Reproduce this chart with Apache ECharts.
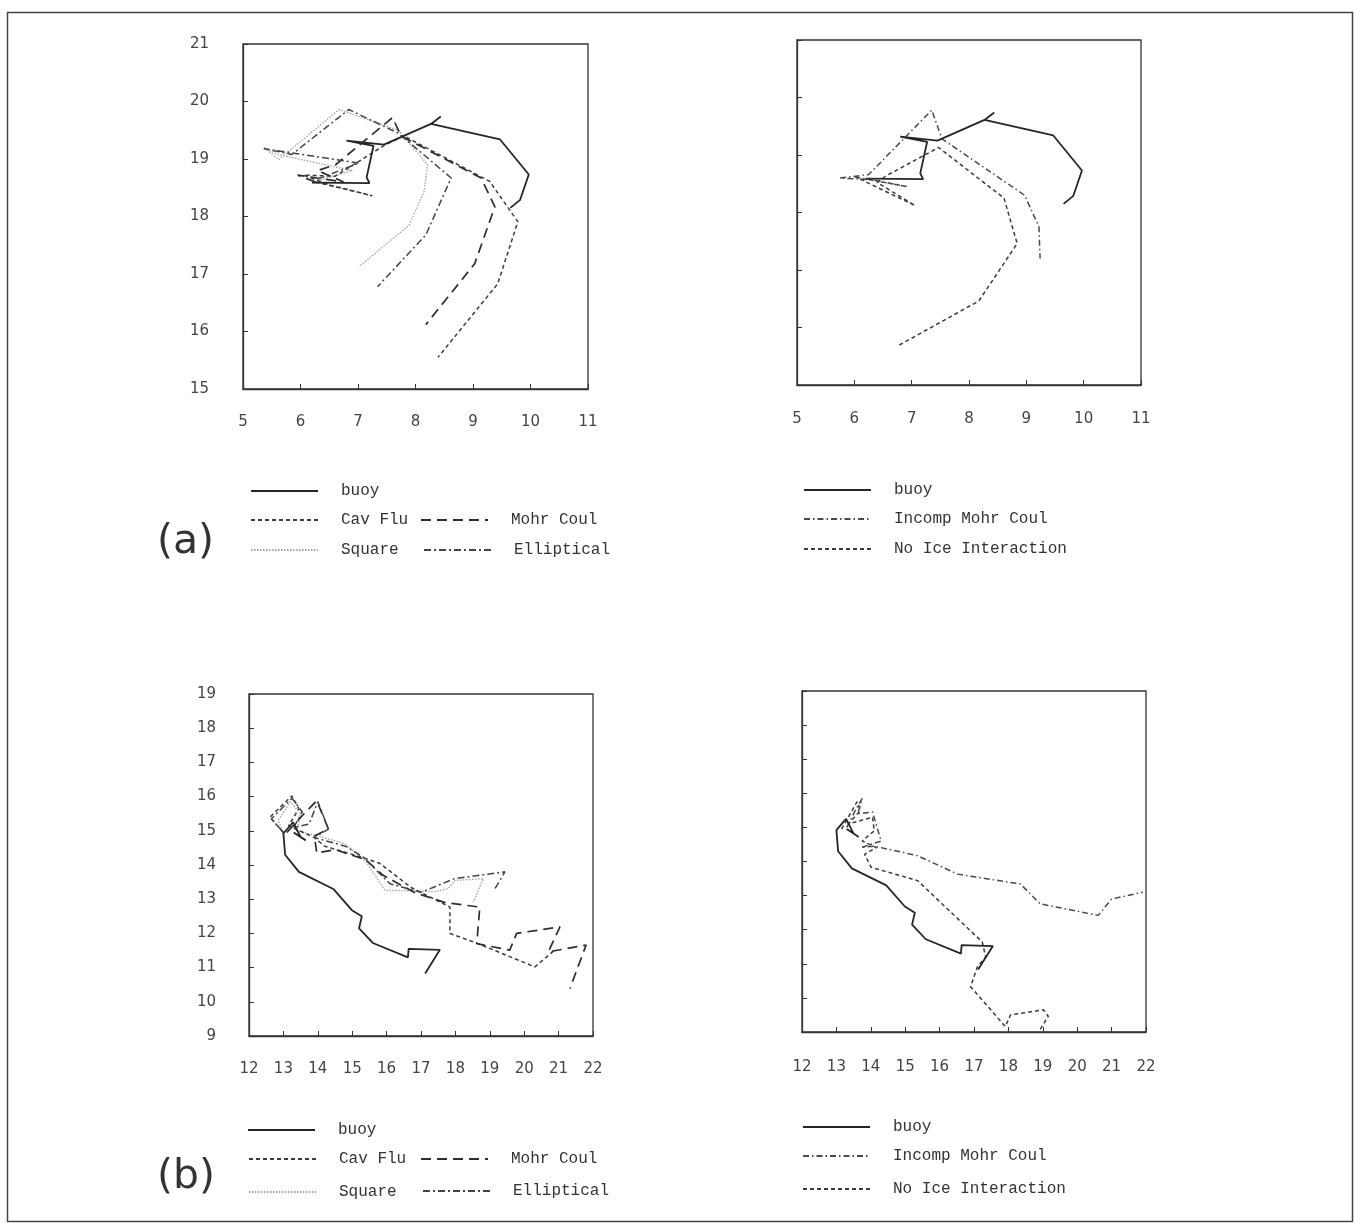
<!DOCTYPE html>
<html><head><meta charset="utf-8">
<script src="https://cdn.jsdelivr.net/npm/echarts@6/dist/echarts.min.js"></script>
<style>html,body{margin:0;padding:0;background:#fff}#c{width:1354px;height:1223px}</style>
</head><body><div id="c"></div>
<script>
// ---- axis ranges (tick labels every 1 unit) ----
const xRangeA = [5, 11];
const yRangeA = [15, 21];
const xRangeB = [12, 22];
const yRangeB = [9, 19];

// ---- series names ----
const names = ['buoy', 'Cav Flu', 'Mohr Coul', 'Square', 'Elliptical', 'Incomp Mohr Coul', 'No Ice Interaction'];

// ---- (a) tracks [x, y] ----
const buoyA = [[6.2,18.59],[7.2,18.58],[7.15,18.68],[7.27,19.23],[6.8,19.32],[7.45,19.25],[8.27,19.61],[8.44,19.74],[8.27,19.61],[9.47,19.34],[9.97,18.73],[9.82,18.29],[9.65,18.15]];
const cavFluA = [[6.26,18.6],[7.25,18.36],[6.5,18.55],[6.05,18.72],[6.6,18.7],[7.48,19.25],[7.8,19.4],[9.29,18.61],[9.78,17.91],[9.43,16.83],[8.39,15.55]];
const mohrA = [[6.26,18.6],[5.95,18.72],[6.75,18.6],[6.3,18.8],[6.61,18.9],[7.6,19.72],[7.75,19.4],[9.14,18.67],[9.38,18.17],[9.03,17.18],[8.18,16.12]];
const squareA = [[6.3,18.62],[6.9,18.8],[5.6,19.08],[5.36,19.2],[5.62,18.99],[6.67,19.86],[7.7,19.5],[8.21,18.9],[8.15,18.44],[7.89,17.85],[7.02,17.13]];
const ellipA = [[6.3,18.65],[7.02,18.93],[5.36,19.18],[5.85,19.08],[6.84,19.86],[7.7,19.45],[8.62,18.67],[8.18,17.68],[7.34,16.78]];
const incompA = [[6.0,18.62],[6.92,18.45],[6.3,18.57],[5.75,18.6],[6.25,18.66],[7.35,19.78],[7.53,19.28],[8.97,18.3],[9.22,17.75],[9.24,17.2]];
const noIceA = [[6.1,18.58],[7.06,18.12],[6.4,18.52],[6.54,18.63],[7.47,19.13],[8.61,18.25],[8.84,17.46],[8.17,16.46],[6.74,15.67]];

// ---- (b) tracks [x, y] ----
const buoyB = [[13.65,14.72],[13.3,14.95],[13.5,14.82],[13.28,15.25],[13.0,14.92],[13.05,14.3],[13.45,13.8],[14.45,13.3],[14.99,12.68],[15.28,12.5],[15.2,12.15],[15.6,11.72],[16.62,11.3],[16.64,11.55],[17.55,11.52],[17.12,10.83]];
const cavFluB = [[13.0,14.95],[12.61,15.4],[13.24,16.02],[13.45,15.65],[13.15,15.15],[13.9,14.8],[14.2,14.55],[15.2,14.25],[15.8,14.05],[16.7,13.35],[17.84,12.77],[17.84,12.0],[18.66,11.7],[20.31,11.02],[20.85,11.48]];
const mohrB = [[13.1,14.95],[13.6,15.5],[13.97,15.88],[14.31,15.05],[13.9,14.85],[13.97,14.35],[14.5,14.45],[15.4,14.15],[15.9,13.7],[16.8,13.2],[17.7,12.9],[18.71,12.77],[18.62,11.7],[19.58,11.51],[19.78,12.0],[21.04,12.19],[20.7,11.46],[21.8,11.66],[21.33,10.39]];
const squareB = [[13.0,14.9],[12.85,15.3],[13.2,15.85],[13.5,15.5],[13.4,15.0],[14.0,14.85],[14.79,14.62],[15.4,14.1],[15.95,13.26],[16.5,13.25],[17.4,13.22],[17.79,13.31],[17.99,13.55],[18.81,13.6],[18.52,12.92]];
const ellipB = [[13.0,14.95],[12.65,15.35],[13.25,15.95],[13.55,15.55],[13.3,15.1],[13.75,15.2],[14.0,15.85],[14.31,15.05],[13.9,14.8],[14.8,14.55],[15.3,14.25],[16.1,13.45],[17.0,13.2],[17.97,13.6],[19.44,13.8],[19.15,13.31]];
const incompB = [[13.3,15.0],[13.55,15.5],[13.75,15.85],[13.62,15.4],[14.05,15.45],[14.3,14.6],[13.72,14.41],[14.1,14.45],[15.36,14.17],[16.52,13.63],[18.35,13.34],[18.92,12.76],[20.61,12.42],[21.0,12.9],[21.91,13.1]];
const noIceB = [[13.15,14.95],[13.6,15.75],[13.7,15.5],[13.35,15.1],[14.05,15.3],[14.1,14.9],[13.75,14.6],[14.16,14.41],[13.82,14.21],[14.01,13.83],[15.36,13.44],[17.24,11.64],[17.34,11.2],[17.1,10.91],[16.9,10.33],[17.91,9.16],[18.06,9.5],[19.02,9.65],[19.16,9.46],[18.92,9.07]];

// ---- styles ----
const styles = {
  'buoy': {color:'#262626', width:1.8, type:'solid'},
  'Cav Flu': {color:'#3c3c3c', width:1.5, type:[4,3]},
  'Mohr Coul': {color:'#2e2e2e', width:1.7, type:[10,6]},
  'Square': {color:'#a4a4a4', width:1.4, type:[1.5,1.5]},
  'Elliptical': {color:'#444', width:1.5, type:[7,3,2,3]},
  'Incomp Mohr Coul': {color:'#4a4a4a', width:1.5, type:[6,3,1.5,3]},
  'No Ice Interaction': {color:'#3c3c3c', width:1.5, type:[4,3]}
};

const chart = echarts.init(document.getElementById('c'), null, {renderer:'canvas'});

const grids = [
  {left:243, top:44, width:345, height:345},
  {left:797, top:40, width:344, height:345},
  {left:249, top:694, width:344, height:342},
  {left:802, top:691, width:344, height:341}
].map(g => Object.assign({show:true, borderColor:'#333', borderWidth:1.3, backgroundColor:'transparent'}, g));

const axisFont = {color:'#444', fontSize:15, fontFamily:'DejaVu Sans'};
function xAx(i, r, margin) {
  return {gridIndex:i, type:'value', min:r[0], max:r[1], interval:1,
    axisLine:{show:true, onZero:false, lineStyle:{color:'#333', width:1.3}},
    axisTick:{show:true, inside:true, length:5, lineStyle:{color:'#333', width:1}},
    axisLabel:Object.assign({show:true, margin:margin}, axisFont),
    splitLine:{show:false}};
}
function yAx(i, r, showLabel, margin) {
  return {gridIndex:i, type:'value', min:r[0], max:r[1], interval:1,
    axisLine:{show:true, onZero:false, lineStyle:{color:'#333', width:1.3}},
    axisTick:{show:true, inside:true, length:5, lineStyle:{color:'#333', width:1}},
    axisLabel:Object.assign({show:showLabel, margin:margin}, axisFont),
    splitLine:{show:false}};
}

function ser(name, idx, data) {
  const s = styles[name];
  return {name:name, type:'line', xAxisIndex:idx, yAxisIndex:idx, data:data,
    symbol:'none', smooth:false, clip:true, silent:true,
    lineStyle:{color:s.color, width:s.width, type:s.type},
    itemStyle:{color:s.color}};
}

function leg(name, x, yc) {
  return {data:[name], left:x, top:yc-7, padding:0, itemWidth:67, itemHeight:14,
    selectedMode:false, itemStyle:{opacity:0},
    textStyle:{fontFamily:'Liberation Mono', fontSize:16, color:'#333', padding:[0,0,0,18]}};
}

const option = {
  animation:false,
  backgroundColor:'#fff',
  grid:grids,
  xAxis:[xAx(0, xRangeA, 26), xAx(1, xRangeA, 27), xAx(2, xRangeB, 26), xAx(3, xRangeB, 28)],
  yAxis:[yAx(0, yRangeA, true, 34), yAx(1, yRangeA, false, 34), yAx(2, yRangeB, true, 33), yAx(3, yRangeB, false, 33)],
  legend:[
    leg('buoy', 250, 490), leg('Cav Flu', 250, 519), leg('Mohr Coul', 420, 519), leg('Square', 250, 549), leg('Elliptical', 423, 549),
    leg('buoy', 803, 489), leg('Incomp Mohr Coul', 803, 518), leg('No Ice Interaction', 803, 548),
    leg('buoy', 247, 1129), leg('Cav Flu', 248, 1158), leg('Mohr Coul', 420, 1158), leg('Square', 248, 1191), leg('Elliptical', 422, 1190),
    leg('buoy', 802, 1126), leg('Incomp Mohr Coul', 802, 1155), leg('No Ice Interaction', 802, 1188)
  ],
  series:[
    ser('Square', 0, squareA), ser('Cav Flu', 0, cavFluA), ser('Mohr Coul', 0, mohrA), ser('Elliptical', 0, ellipA), ser('buoy', 0, buoyA),
    ser('No Ice Interaction', 1, noIceA), ser('Incomp Mohr Coul', 1, incompA), ser('buoy', 1, buoyA),
    ser('Square', 2, squareB), ser('Cav Flu', 2, cavFluB), ser('Mohr Coul', 2, mohrB), ser('Elliptical', 2, ellipB), ser('buoy', 2, buoyB),
    ser('No Ice Interaction', 3, noIceB), ser('Incomp Mohr Coul', 3, incompB), ser('buoy', 3, buoyB)
  ],
  graphic:[
    {type:'rect', left:5, top:10, shape:{width:1345, height:1209}, style:{fill:'none', stroke:'#444', lineWidth:1.5}, silent:true},
    {type:'text', left:157, top:522, style:{text:'(a)', fontFamily:'DejaVu Sans', fontSize:41, fill:'#333'}},
    {type:'text', left:157, top:1157, style:{text:'(b)', fontFamily:'DejaVu Sans', fontSize:41, fill:'#333'}}
  ]
};
chart.setOption(option);
</script></body></html>
